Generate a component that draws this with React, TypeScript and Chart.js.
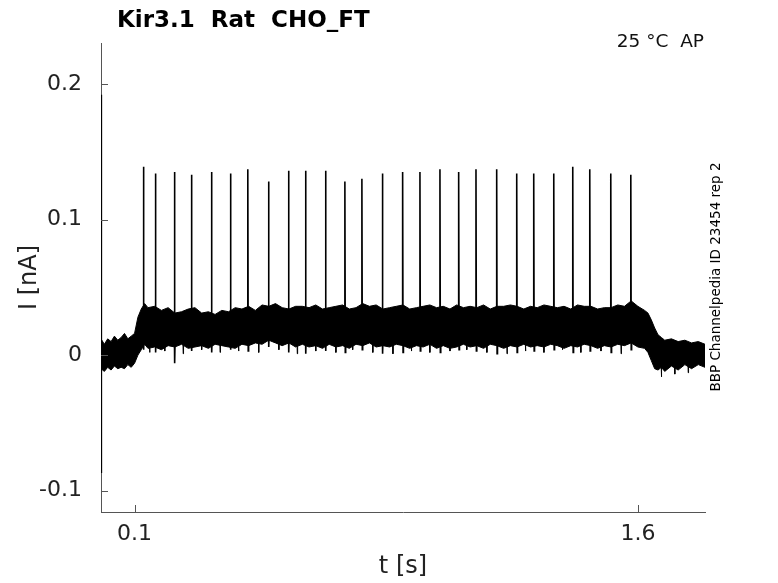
import { useEffect, useRef } from "react";
import { Chart, registerables } from "chart.js";

Chart.register(...registerables);

const titleText = "Kir3.1  Rat  CHO_FT";
const conditionText = "25 °C  AP";
const sideText = "BBP Channelpedia ID 23454 rep 2";
const xTitle = "t [s]";
const yTitle = "I [nA]";

const xTicks = [0.1, 1.6];
const yTicks = [-0.1, 0, 0.1, 0.2];
const xRange = [0, 1.8];
const yRange = [-0.1157, 0.2302];

const spikeTimes = [
  0.1265, 0.1622, 0.2189, 0.2696, 0.3293, 0.3859, 0.4375, 0.4993, 0.5589,
  0.6096, 0.6692, 0.7268, 0.7775, 0.8386, 0.8989, 0.9505, 1.0101, 1.0659,
  1.1175, 1.1792, 1.2389, 1.2896, 1.3493, 1.4059, 1.4566, 1.5192, 1.5789,
];
const spikePeaks = [
  0.139, 0.134, 0.135, 0.133, 0.135, 0.134, 0.137, 0.128, 0.136, 0.136,
  0.136, 0.128, 0.130, 0.134, 0.135, 0.135, 0.137, 0.135, 0.137, 0.137,
  0.134, 0.134, 0.134, 0.139, 0.137, 0.134, 0.133,
];
const spikeDips = [
  0.004, 0.002, -0.006, 0.003, 0.002, 0.004, 0.003, 0.006, 0.002, 0.001,
  0.003, 0.002, 0.004, 0.001, 0.002, 0.003, 0.002, 0.004, 0.003, 0.001,
  0.002, 0.003, 0.004, 0.002, 0.003, 0.002, 0.004,
];
const spikeBases = [
  0.030, 0.031, 0.028, 0.027, 0.028, 0.027, 0.028, 0.030, 0.029, 0.030,
  0.029, 0.030, 0.031, 0.030, 0.029, 0.030, 0.030, 0.029, 0.031, 0.030,
  0.030, 0.029, 0.030, 0.031, 0.030, 0.031, 0.034,
];

const envTimes = [
  0.0, 0.01, 0.02, 0.03, 0.04, 0.05, 0.06, 0.07, 0.08, 0.09, 0.1, 0.11,
  0.12, 0.13, 0.14, 0.16, 0.18, 0.2, 0.22, 0.24, 0.26, 0.28, 0.3, 0.32,
  0.34, 0.36, 0.38, 0.4, 0.42, 0.44, 0.46, 0.48, 0.5, 0.52, 0.54, 0.56,
  0.58, 0.6, 0.62, 0.64, 0.66, 0.68, 0.7, 0.72, 0.74, 0.76, 0.78, 0.8,
  0.82, 0.84, 0.86, 0.88, 0.9, 0.92, 0.94, 0.96, 0.98, 1.0, 1.02, 1.04,
  1.06, 1.08, 1.1, 1.12, 1.14, 1.16, 1.18, 1.2, 1.22, 1.24, 1.26, 1.28,
  1.3, 1.32, 1.34, 1.36, 1.38, 1.4, 1.42, 1.44, 1.46, 1.48, 1.5, 1.52,
  1.54, 1.56, 1.58, 1.6, 1.62, 1.63, 1.64, 1.65, 1.66, 1.67, 1.68, 1.7,
  1.72, 1.74, 1.76, 1.78, 1.8,
];
const envUpper = [
  0.012, 0.008, 0.012, 0.010, 0.014, 0.011, 0.013, 0.016, 0.012, 0.014,
  0.016, 0.028, 0.034, 0.038, 0.035, 0.036, 0.033, 0.035, 0.031, 0.032,
  0.034, 0.035, 0.031, 0.032, 0.030, 0.033, 0.032, 0.035, 0.034, 0.036,
  0.033, 0.037, 0.036, 0.038, 0.035, 0.034, 0.036, 0.036, 0.035, 0.037,
  0.034, 0.035, 0.036, 0.037, 0.034, 0.035, 0.038, 0.036, 0.037, 0.034,
  0.035, 0.036, 0.037, 0.034, 0.035, 0.036, 0.037, 0.035, 0.036, 0.034,
  0.037, 0.035, 0.036, 0.035, 0.037, 0.034, 0.036, 0.036, 0.037, 0.036,
  0.034, 0.036, 0.035, 0.037, 0.036, 0.035, 0.036, 0.034, 0.037, 0.036,
  0.036, 0.034, 0.035, 0.035, 0.037, 0.036, 0.040, 0.036, 0.033, 0.031,
  0.026, 0.020, 0.015, 0.013, 0.011, 0.012, 0.010, 0.011, 0.009, 0.010,
  0.008,
];
const envLower = [
  -0.010, -0.012, -0.009, -0.011, -0.008, -0.010, -0.009, -0.010, -0.007,
  -0.009, -0.006, 0.000, 0.004, 0.008, 0.005, 0.006, 0.004, 0.007, 0.006,
  0.008, 0.005, 0.006, 0.007, 0.005, 0.008, 0.007, 0.006, 0.005, 0.008,
  0.007, 0.009, 0.008, 0.011, 0.009, 0.007, 0.009, 0.006, 0.008, 0.006,
  0.007, 0.005, 0.008, 0.006, 0.007, 0.005, 0.008, 0.007, 0.009, 0.006,
  0.007, 0.006, 0.008, 0.007, 0.005, 0.007, 0.006, 0.008, 0.005, 0.007,
  0.005, 0.006, 0.008, 0.006, 0.007, 0.005, 0.008, 0.007, 0.005, 0.007,
  0.006, 0.008, 0.006, 0.007, 0.006, 0.008, 0.007, 0.005, 0.007, 0.006,
  0.008, 0.007, 0.005, 0.007, 0.006, 0.008, 0.007, 0.009, 0.006, 0.005,
  0.002, -0.004, -0.010, -0.011, -0.009, -0.012, -0.008, -0.011, -0.007,
  -0.010, -0.007, -0.009,
];

const excursionTimes = [
  0.145, 0.19, 0.245, 0.3, 0.355, 0.41, 0.47, 0.53, 0.585, 0.64, 0.7, 0.75,
  0.81, 0.87, 0.925, 0.98, 1.04, 1.09, 1.15, 1.21, 1.265, 1.32, 1.375, 1.43,
  1.49, 1.55, 1.67, 1.71, 1.75,
];
const excursionValues = [
  0.002, 0.003, 0.001, 0.004, 0.002, 0.003, 0.002, 0.004, 0.001, 0.003,
  0.002, 0.004, 0.002, 0.001, 0.003, 0.002, 0.003, 0.004, 0.002, 0.001,
  0.003, 0.002, 0.004, 0.002, 0.003, 0.001, -0.016, -0.014, -0.013,
];

const transientTimes = [0.0, 0.0008, 0.0016, 0.0026];
const transientValues = [0.004, 0.192, -0.087, 0.002];

const FONT = "'DejaVu Sans', sans-serif";
const AXIS_COLOR = "#555555";
const TEXT_COLOR = "#222222";

export default function App() {
  const canvasRef = useRef<HTMLCanvasElement | null>(null);

  useEffect(() => {
    const canvas = canvasRef.current;
    if (!canvas) return;

    const upperPts = envTimes.map((t, i) => ({ x: t, y: envUpper[i] }));
    const lowerPts = envTimes.map((t, i) => ({ x: t, y: envLower[i] }));
    const spikePts: { x: number; y: number | null }[] = [];
    spikeTimes.forEach((t, i) => {
      spikePts.push({ x: t - 0.0006, y: spikeBases[i] });
      spikePts.push({ x: t, y: spikePeaks[i] });
      spikePts.push({ x: t + 0.0012, y: spikeDips[i] });
      spikePts.push({ x: t + 0.0024, y: spikeBases[i] - 0.01 });
      spikePts.push({ x: t + 0.0024, y: null });
    });
    const excPts: { x: number; y: number | null }[] = [];
    excursionTimes.forEach((t, i) => {
      const base = t > 1.65 ? -0.004 : 0.012;
      excPts.push({ x: t - 0.001, y: base });
      excPts.push({ x: t, y: excursionValues[i] });
      excPts.push({ x: t + 0.001, y: base });
      excPts.push({ x: t + 0.001, y: null });
    });
    const transientPts = transientTimes.map((t, i) => ({ x: t, y: transientValues[i] }));

    const decorPlugin = {
      id: "decor",
      afterDraw(chart: any) {
        const ctx = chart.ctx as CanvasRenderingContext2D;
        const xs = chart.scales.x;
        const ys = chart.scales.y;
        const area = chart.chartArea;
        ctx.save();
        ctx.strokeStyle = AXIS_COLOR;
        ctx.lineWidth = 1;
        ctx.beginPath();
        xTicks.forEach((v) => {
          const px = Math.round(xs.getPixelForValue(v)) + 0.5;
          ctx.moveTo(px, area.bottom);
          ctx.lineTo(px, area.bottom - 7);
        });
        yTicks.forEach((v) => {
          const py = Math.round(ys.getPixelForValue(v)) + 0.5;
          ctx.moveTo(area.left, py);
          ctx.lineTo(area.left + 7, py);
        });
        ctx.stroke();

        ctx.fillStyle = "#000";
        ctx.font = `bold 23px ${FONT}`;
        ctx.textAlign = "left";
        ctx.textBaseline = "alphabetic";
        ctx.fillText(titleText, 117, 27);

        ctx.font = `18.5px ${FONT}`;
        ctx.textAlign = "right";
        ctx.fillStyle = "#111";
        ctx.fillText(conditionText, 704, 47);

        ctx.fillStyle = TEXT_COLOR;
        ctx.font = `24px ${FONT}`;
        ctx.textAlign = "center";
        ctx.textBaseline = "middle";
        ctx.fillText(xTitle, (area.left + area.right) / 2, 567);
        ctx.save();
        ctx.translate(30, (area.top + area.bottom) / 2);
        ctx.rotate(-Math.PI / 2);
        ctx.fillText(yTitle, 0, 0);
        ctx.restore();

        ctx.save();
        ctx.fillStyle = "#000";
        ctx.font = `13.5px ${FONT}`;
        ctx.translate(716, 277);
        ctx.rotate(-Math.PI / 2);
        ctx.textAlign = "center";
        ctx.textBaseline = "middle";
        ctx.fillText(sideText, 0, 0);
        ctx.restore();

        ctx.restore();
      },
    };

    const chart = new Chart(canvas, {
      type: "line",
      data: {
        datasets: [
          {
            data: upperPts,
            borderColor: "#000",
            backgroundColor: "#000",
            borderWidth: 1,
            fill: "+1",
            pointRadius: 0,
          },
          {
            data: lowerPts,
            borderColor: "#000",
            borderWidth: 1,
            fill: false,
            pointRadius: 0,
          },
          {
            data: spikePts as any,
            borderColor: "#000",
            borderWidth: 1.6,
            fill: false,
            pointRadius: 0,
            spanGaps: false,
          },
          {
            data: excPts as any,
            borderColor: "#000",
            borderWidth: 1,
            fill: false,
            pointRadius: 0,
            spanGaps: false,
          },
          {
            data: transientPts,
            borderColor: "#000",
            borderWidth: 1.2,
            fill: false,
            pointRadius: 0,
          },
        ],
      },
      options: {
        animation: false,
        responsive: false,
        maintainAspectRatio: false,
        parsing: false,
        normalized: true,
        layout: { padding: { top: 43, right: 73, left: 0, bottom: 0 } },
        plugins: {
          legend: { display: false },
          tooltip: { enabled: false },
          title: { display: false },
        },
        elements: { line: { tension: 0 }, point: { radius: 0 } },
        scales: {
          x: {
            type: "linear",
            min: xRange[0],
            max: xRange[1],
            afterBuildTicks: (s: any) => {
              s.ticks = xTicks.map((v) => ({ value: v }));
            },
            afterFit: (s: any) => {
              s.height = 71;
            },
            grid: { display: false, drawTicks: false },
            border: { display: true, color: AXIS_COLOR, width: 1 },
            ticks: {
              padding: 9,
              autoSkip: false,
              maxRotation: 0,
              color: TEXT_COLOR,
              font: { family: FONT, size: 22 },
              callback: (v: any) => String(v),
            },
          },
          y: {
            type: "linear",
            min: yRange[0],
            max: yRange[1],
            afterBuildTicks: (s: any) => {
              s.ticks = yTicks.map((v) => ({ value: v }));
            },
            afterFit: (s: any) => {
              s.width = 101;
            },
            grid: { display: false, drawTicks: false },
            border: { display: true, color: AXIS_COLOR, width: 1 },
            ticks: {
              padding: 19,
              autoSkip: false,
              color: TEXT_COLOR,
              font: { family: FONT, size: 22 },
              callback: (v: any) => String(v),
            },
          },
        },
      },
      plugins: [decorPlugin],
    });

    return () => chart.destroy();
  }, []);

  return (
    <div style={{ position: "fixed", left: 0, top: 0, width: 778, height: 583, background: "#fff" }}>
      <canvas ref={canvasRef} width={778} height={583} style={{ width: 778, height: 583 }} />
    </div>
  );
}
